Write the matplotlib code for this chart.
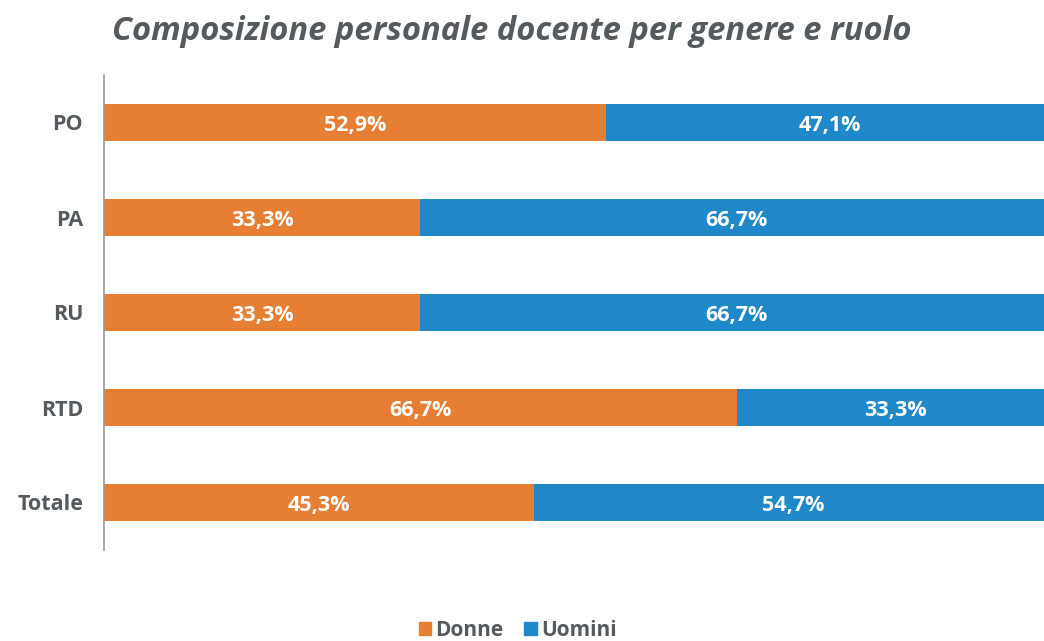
import matplotlib
matplotlib.use("Agg")
import matplotlib.pyplot as plt
from matplotlib.patches import Patch

plt.rcParams['font.family'] = ['Open Sans', 'DejaVu Sans']

ruoli = ["PO", "PA", "RU", "RTD", "Totale"]
donne = [52.9, 33.3, 33.3, 66.7, 45.3]
uomini = [47.1, 66.7, 66.7, 33.3, 54.7]
col_donne = "#E67E33"
col_uomini = "#1F88C9"
grigio = "#555A5E"

fig = plt.figure(figsize=(10.44, 6.41), dpi=100)
ax = fig.add_axes([104/1044, 1-550/641, 949/1044, 475/641])

y = list(range(len(ruoli)))
ax.barh(y, donne, height=0.39, color=col_donne)
ax.barh(y, uomini, left=donne, height=0.39, color=col_uomini)

def fmt(v):
    return f"{v:.1f}%".replace(".", ",")

for i in y:
    ax.text(donne[i]/2, i + 0.03, fmt(donne[i]), ha="center", va="center",
            color="white", fontsize=15.5, fontweight="bold")
    ax.text(donne[i] + uomini[i]/2, i + 0.03, fmt(uomini[i]), ha="center", va="center",
            color="white", fontsize=15.5, fontweight="bold")

ax.set_xlim(0, 100)
ax.set_ylim(len(ruoli) - 0.5, -0.5)
ax.set_yticks(y)
ax.set_yticklabels(ruoli, fontsize=15.5, fontweight="bold", color=grigio)
ax.tick_params(axis="y", length=0, pad=15)
ax.set_xticks([])
for s in ["top", "right", "bottom"]:
    ax.spines[s].set_visible(False)
ax.spines["left"].set_color("#999999")
ax.spines["left"].set_linewidth(1.2)

fig.text(0.49, 0.951, "Composizione personale docente per genere e ruolo",
         ha="center", va="center", fontsize=23.6, fontweight="bold",
         style="italic", color=grigio)

handles = [Patch(color=col_donne, label="Donne"), Patch(color=col_uomini, label="Uomini")]
fig.legend(handles=handles, loc="center", bbox_to_anchor=(0.496, 0.017), ncol=2,
           frameon=False, handlelength=0.6, handleheight=0.6, handletextpad=0.2,
           columnspacing=1.0, prop={"size": 15, "weight": "bold"}, labelcolor=grigio)

fig.savefig("out.png", dpi=100)
